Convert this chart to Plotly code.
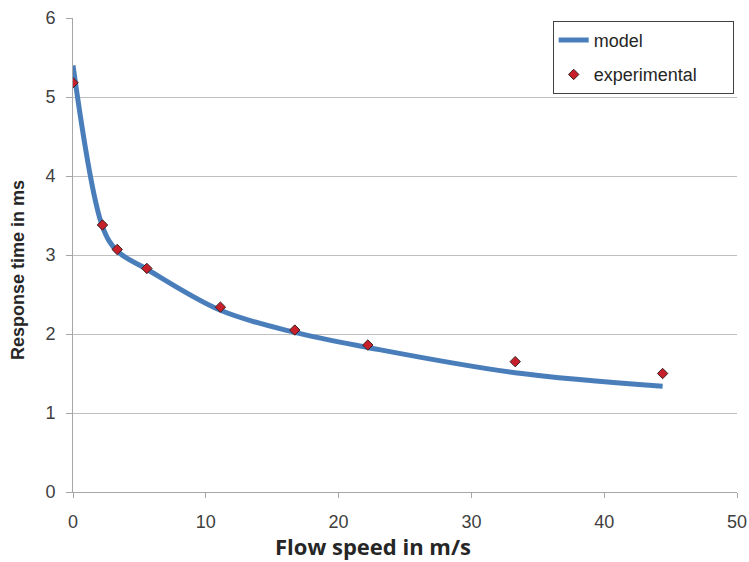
import plotly.graph_objects as go

# Data
speed = [0, 2.22, 3.33, 5.56, 11.1, 16.7, 22.2, 33.3, 44.4]
model = [5.40, 3.36, 3.05, 2.82, 2.30, 2.02, 1.83, 1.51, 1.34]
experimental = [5.18, 3.38, 3.07, 2.83, 2.34, 2.05, 1.86, 1.65, 1.50]

x_ticks = [0, 10, 20, 30, 40, 50]
y_ticks = [0, 1, 2, 3, 4, 5, 6]

pad = "\u00a0" * 6

fig = go.Figure()
fig.add_trace(go.Scatter(
    x=speed, y=model, mode="lines", name="model",
    line=dict(color="#4a7ebb", width=5, shape="spline", smoothing=1.0),
    legendgroup="a",
))
fig.add_trace(go.Scatter(
    x=speed, y=experimental, mode="markers", name="experimental" + pad,
    marker=dict(symbol="diamond", size=8, color="#c8202a",
                line=dict(color="#3a2020", width=1)),
    legendgroup="b",
))

axis_font = dict(family="Liberation Sans, Arial, sans-serif", size=18, color="#404040")

fig.update_layout(
    width=749, height=562,
    margin=dict(l=73, r=12, t=18, b=70),
    paper_bgcolor="white", plot_bgcolor="white",
    showlegend=True,
    legend=dict(
        x=0.995, y=0.994, xanchor="right", yanchor="top",
        bgcolor="white", bordercolor="#404040", borderwidth=1,
        font=dict(family="Liberation Sans, Arial, sans-serif", size=18, color="#262626"),
        tracegroupgap=8, itemwidth=30,
    ),
    xaxis=dict(
        range=[0, 50], tickvals=x_ticks, ticktext=[str(v) for v in x_ticks],
        showgrid=False, zeroline=False, automargin=False,
        showline=True, linecolor="#a6a6a6", linewidth=1,
        ticks="outside", ticklen=5, tickcolor="#a6a6a6",
        tickfont=axis_font, ticklabelstandoff=8,
    ),
    yaxis=dict(
        range=[0, 6], tickvals=y_ticks, ticktext=[str(v) for v in y_ticks],
        showgrid=True, gridcolor="#bfbfbf", gridwidth=1, zeroline=False,
        automargin=False,
        showline=True, linecolor="#a6a6a6", linewidth=1,
        ticks="outside", ticklen=6, tickcolor="#a6a6a6",
        tickfont=axis_font, ticklabelstandoff=7,
    ),
    annotations=[
        dict(text="<b>Flow speed in m/s</b>", xref="paper", yref="paper",
             x=0.452, y=-0.113, xanchor="center", yanchor="middle", showarrow=False,
             font=dict(family="Open Sans, sans-serif", size=22, color="#262626")),
        dict(text="<b>Response time in ms</b>", xref="paper", yref="paper",
             x=-0.083, y=0.468, xanchor="center", yanchor="middle", showarrow=False,
             textangle=-90,
             font=dict(family="Liberation Sans, Arial, sans-serif", size=18, color="#262626")),
    ],
)

fig.write_html("out.html")
